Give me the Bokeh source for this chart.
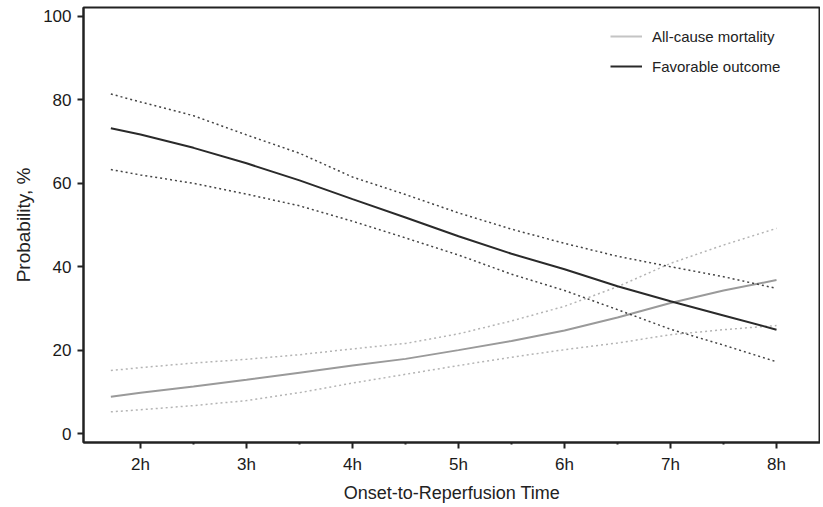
from bokeh.plotting import figure
from bokeh.models import FixedTicker, Legend, LegendItem
from bokeh.embed import file_html
from bokeh.resources import INLINE

hours = [1.72, 2.0, 2.5, 3.0, 3.5, 4.0, 4.5, 5.0, 5.5, 6.0, 6.5, 7.0, 7.5, 8.0]

favorable = [73.2, 71.7, 68.5, 64.8, 60.7, 56.2, 51.8, 47.3, 43.1, 39.4, 35.3, 31.7, 28.3, 24.9]
favorable_upper = [81.4, 79.5, 76.2, 71.6, 67.2, 61.5, 57.3, 52.9, 49.0, 45.6, 42.5, 40.0, 37.6, 34.8]
favorable_lower = [63.3, 62.0, 60.0, 57.4, 54.6, 50.9, 46.9, 42.8, 38.2, 34.3, 29.7, 25.0, 21.2, 17.2]

mortality = [8.8, 9.8, 11.3, 12.9, 14.6, 16.3, 17.9, 20.0, 22.2, 24.7, 27.8, 31.3, 34.3, 36.8]
mortality_upper = [15.1, 15.8, 16.9, 17.8, 18.9, 20.3, 21.6, 23.9, 27.0, 30.5, 35.2, 40.8, 45.2, 49.2]
mortality_lower = [5.2, 5.7, 6.7, 7.9, 9.8, 12.1, 14.2, 16.3, 18.3, 20.1, 21.7, 23.7, 24.9, 25.9]

x_ticks = [2, 3, 4, 5, 6, 7, 8]
x_tick_labels = ["2h", "3h", "4h", "5h", "6h", "7h", "8h"]
x_minor = [2.5, 3.5, 4.5, 5.5, 6.5, 7.5]
y_ticks = [0, 20, 40, 60, 80, 100]

FONT = "Liberation Sans"

p = figure(width=820, height=505, output_backend="svg", toolbar_location=None,
           x_range=(1.462, 8.415), y_range=(-2.15, 102.15),
           min_border_left=83, min_border_top=7, min_border_right=0, min_border_bottom=60)

p.background_fill_color = "white"
p.border_fill_color = "white"
p.xgrid.visible = False
p.ygrid.visible = False
p.outline_line_color = "#222222"
p.outline_line_width = 2

mort_ci = "#b4b4b4"
fav_col = "#2a2a2a"

p.line(hours, mortality, line_color="#9a9a9a", line_width=2)
p.line(hours, mortality_upper, line_color=mort_ci, line_width=1.5, line_dash="2 3")
p.line(hours, mortality_lower, line_color=mort_ci, line_width=1.5, line_dash="2 3")

p.line(hours, favorable, line_color=fav_col, line_width=2)
p.line(hours, favorable_upper, line_color="#444444", line_width=1.5, line_dash="2 3")
p.line(hours, favorable_lower, line_color="#444444", line_width=1.5, line_dash="2 3")

# legend proxies (drawn outside the visible range)
leg_m = p.line([0, 0.1], [0, 0], line_color="#c4c4c4", line_width=2)
leg_f = p.line([0, 0.1], [0, 0], line_color=fav_col, line_width=2)

legend = Legend(items=[LegendItem(label="All-cause mortality", renderers=[leg_m]),
                       LegendItem(label="Favorable outcome", renderers=[leg_f])],
                location=(527, 366), orientation="vertical")
legend.border_line_color = None
legend.background_fill_alpha = 0
legend.label_text_font = FONT
legend.label_text_font_size = "15px"
legend.label_text_color = "#222222"
legend.glyph_width = 32
legend.label_standoff = 10
legend.spacing = 10
legend.label_height = 20
legend.glyph_height = 20
p.add_layout(legend, "center")

for ax in (p.xaxis[0], p.yaxis[0]):
    ax.axis_line_color = "#222222"
    ax.axis_line_width = 2
    ax.major_tick_line_color = "#222222"
    ax.major_tick_line_width = 2
    ax.major_tick_in = 0
    ax.major_tick_out = 6
    ax.minor_tick_line_color = "#222222"
    ax.minor_tick_line_width = 2
    ax.minor_tick_in = 0
    ax.minor_tick_out = 2
    ax.major_label_text_font = FONT
    ax.major_label_text_font_size = "17px"
    ax.major_label_text_color = "#1a1a1a"
    ax.axis_label_text_font = FONT
    ax.axis_label_text_font_size = "18px"
    ax.axis_label_text_font_style = "normal"
    ax.axis_label_text_color = "#222222"

p.xaxis.ticker = FixedTicker(ticks=x_ticks, minor_ticks=x_minor)
p.xaxis.major_label_overrides = {t: l for t, l in zip(x_ticks, x_tick_labels)}
p.xaxis.axis_label = "Onset-to-Reperfusion Time"
p.xaxis.major_label_standoff = 6
p.xaxis.axis_label_standoff = 6

p.yaxis.ticker = FixedTicker(ticks=y_ticks, minor_ticks=[])
p.yaxis.axis_label = "Probability, %"
p.yaxis.axis_label_text_font_size = "19px"
p.yaxis.major_label_standoff = 6
p.yaxis.axis_label_standoff = 6

open("out.html", "w").write(file_html(p, INLINE))
